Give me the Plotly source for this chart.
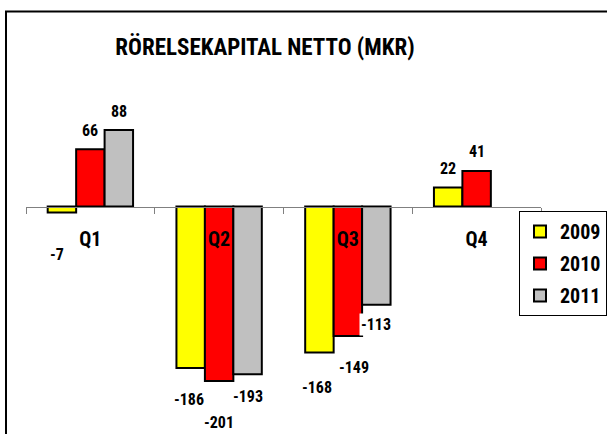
import plotly.graph_objects as go

# ---- data ----
quarters = ["Q1", "Q2", "Q3", "Q4"]
years = ["2009", "2010", "2011"]
v2009 = [-7, -186, -168, 22]
v2010 = [66, -201, -149, 41]
v2011 = [88, -193, -113, None]
title_text = "RÖRELSEKAPITAL NETTO (MKR)"

series = [v2009, v2010, v2011]
colors = ["#FFFF00", "#FF0000", "#C0C0C0"]

# label nudges (pixels) relative to bar end, per series/category
lab_dx = [[-5, -2, -2, 0], [0, 0, 6, 0], [0, 0, 0, 0]]
lab_dy = [[-42, -31, -35, 19], [19, -41, -32, 19], [19, -22, -20, 0]]

W, H = 607, 434
FONT = "Roboto Condensed, Liberation Sans, sans-serif"

# geometry
x_left, x_right = 26, 541
zero_px = 206.5
scale = 0.8685  # px per unit
ymin, ymax = -250, 150
y_bot_px = zero_px - ymin * scale
y_top_px = zero_px - ymax * scale
bargap = 0.337
cat_px = (x_right - x_left) / len(quarters)
bar_px = cat_px * (1 - bargap) / 3

fig = go.Figure()
for i, (yr, vals) in enumerate(zip(years, series)):
    fig.add_trace(go.Bar(
        name=yr, x=quarters, y=vals, legendgroup=yr,
        marker=dict(color=colors[i], line=dict(color="black", width=2)),
    ))

annotations = []
for i, vals in enumerate(series):
    for j, v in enumerate(vals):
        if v is None:
            continue
        annotations.append(dict(
            x=quarters[j], y=v, xref="x", yref="y",
            text=str(v), showarrow=False,
            xshift=(i - 1) * bar_px + lab_dx[i][j], yshift=lab_dy[i][j],
            xanchor="center", yanchor="middle",
            bgcolor="white",
            font=dict(family=FONT, size=16, color="black", weight="bold"),
        ))

fig.update_layout(
    width=W, height=H,
    margin=dict(l=0, r=0, t=0, b=0, pad=0),
    paper_bgcolor="white", plot_bgcolor="rgba(0,0,0,0)",
    barmode="group", bargap=bargap, bargroupgap=0,
    title=dict(text=title_text, x=265 / W, y=1 - 47 / H,
               xanchor="center", yanchor="middle",
               font=dict(family=FONT, size=23, color="black", weight="bold")),
    xaxis=dict(
        type="category", domain=[x_left / W, x_right / W],
        anchor="free", position=1 - zero_px / H,
        showline=True, linecolor="#808080", linewidth=1,
        ticks="outside", tickson="boundaries", ticklen=6, tickcolor="#808080",
        showgrid=False, zeroline=False,
        tickfont=dict(family=FONT, size=20, color="black", weight="bold"),
        ticklabelstandoff=14,
    ),
    yaxis=dict(range=[ymin, ymax], domain=[1 - y_bot_px / H, 1 - y_top_px / H],
               visible=False, showgrid=False, zeroline=False),
    legend=dict(x=1, y=1 - 211 / H, xanchor="right", yanchor="top",
                bordercolor="black", borderwidth=1, bgcolor="white",
                traceorder="grouped", tracegroupgap=3,
                font=dict(family=FONT, size=20, color="black", weight="bold")),
    annotations=annotations,
    shapes=[dict(type="rect", xref="paper", yref="paper",
                 x0=6 / W, x1=1.2, y0=-0.2, y1=1 - 11.5 / H,
                 line=dict(color="black", width=2), fillcolor="rgba(0,0,0,0)",
                 layer="above")],
    showlegend=True,
)

fig.write_html("out.html", config={"displayModeBar": False},
               post_script="document.body.style.margin='0';")
